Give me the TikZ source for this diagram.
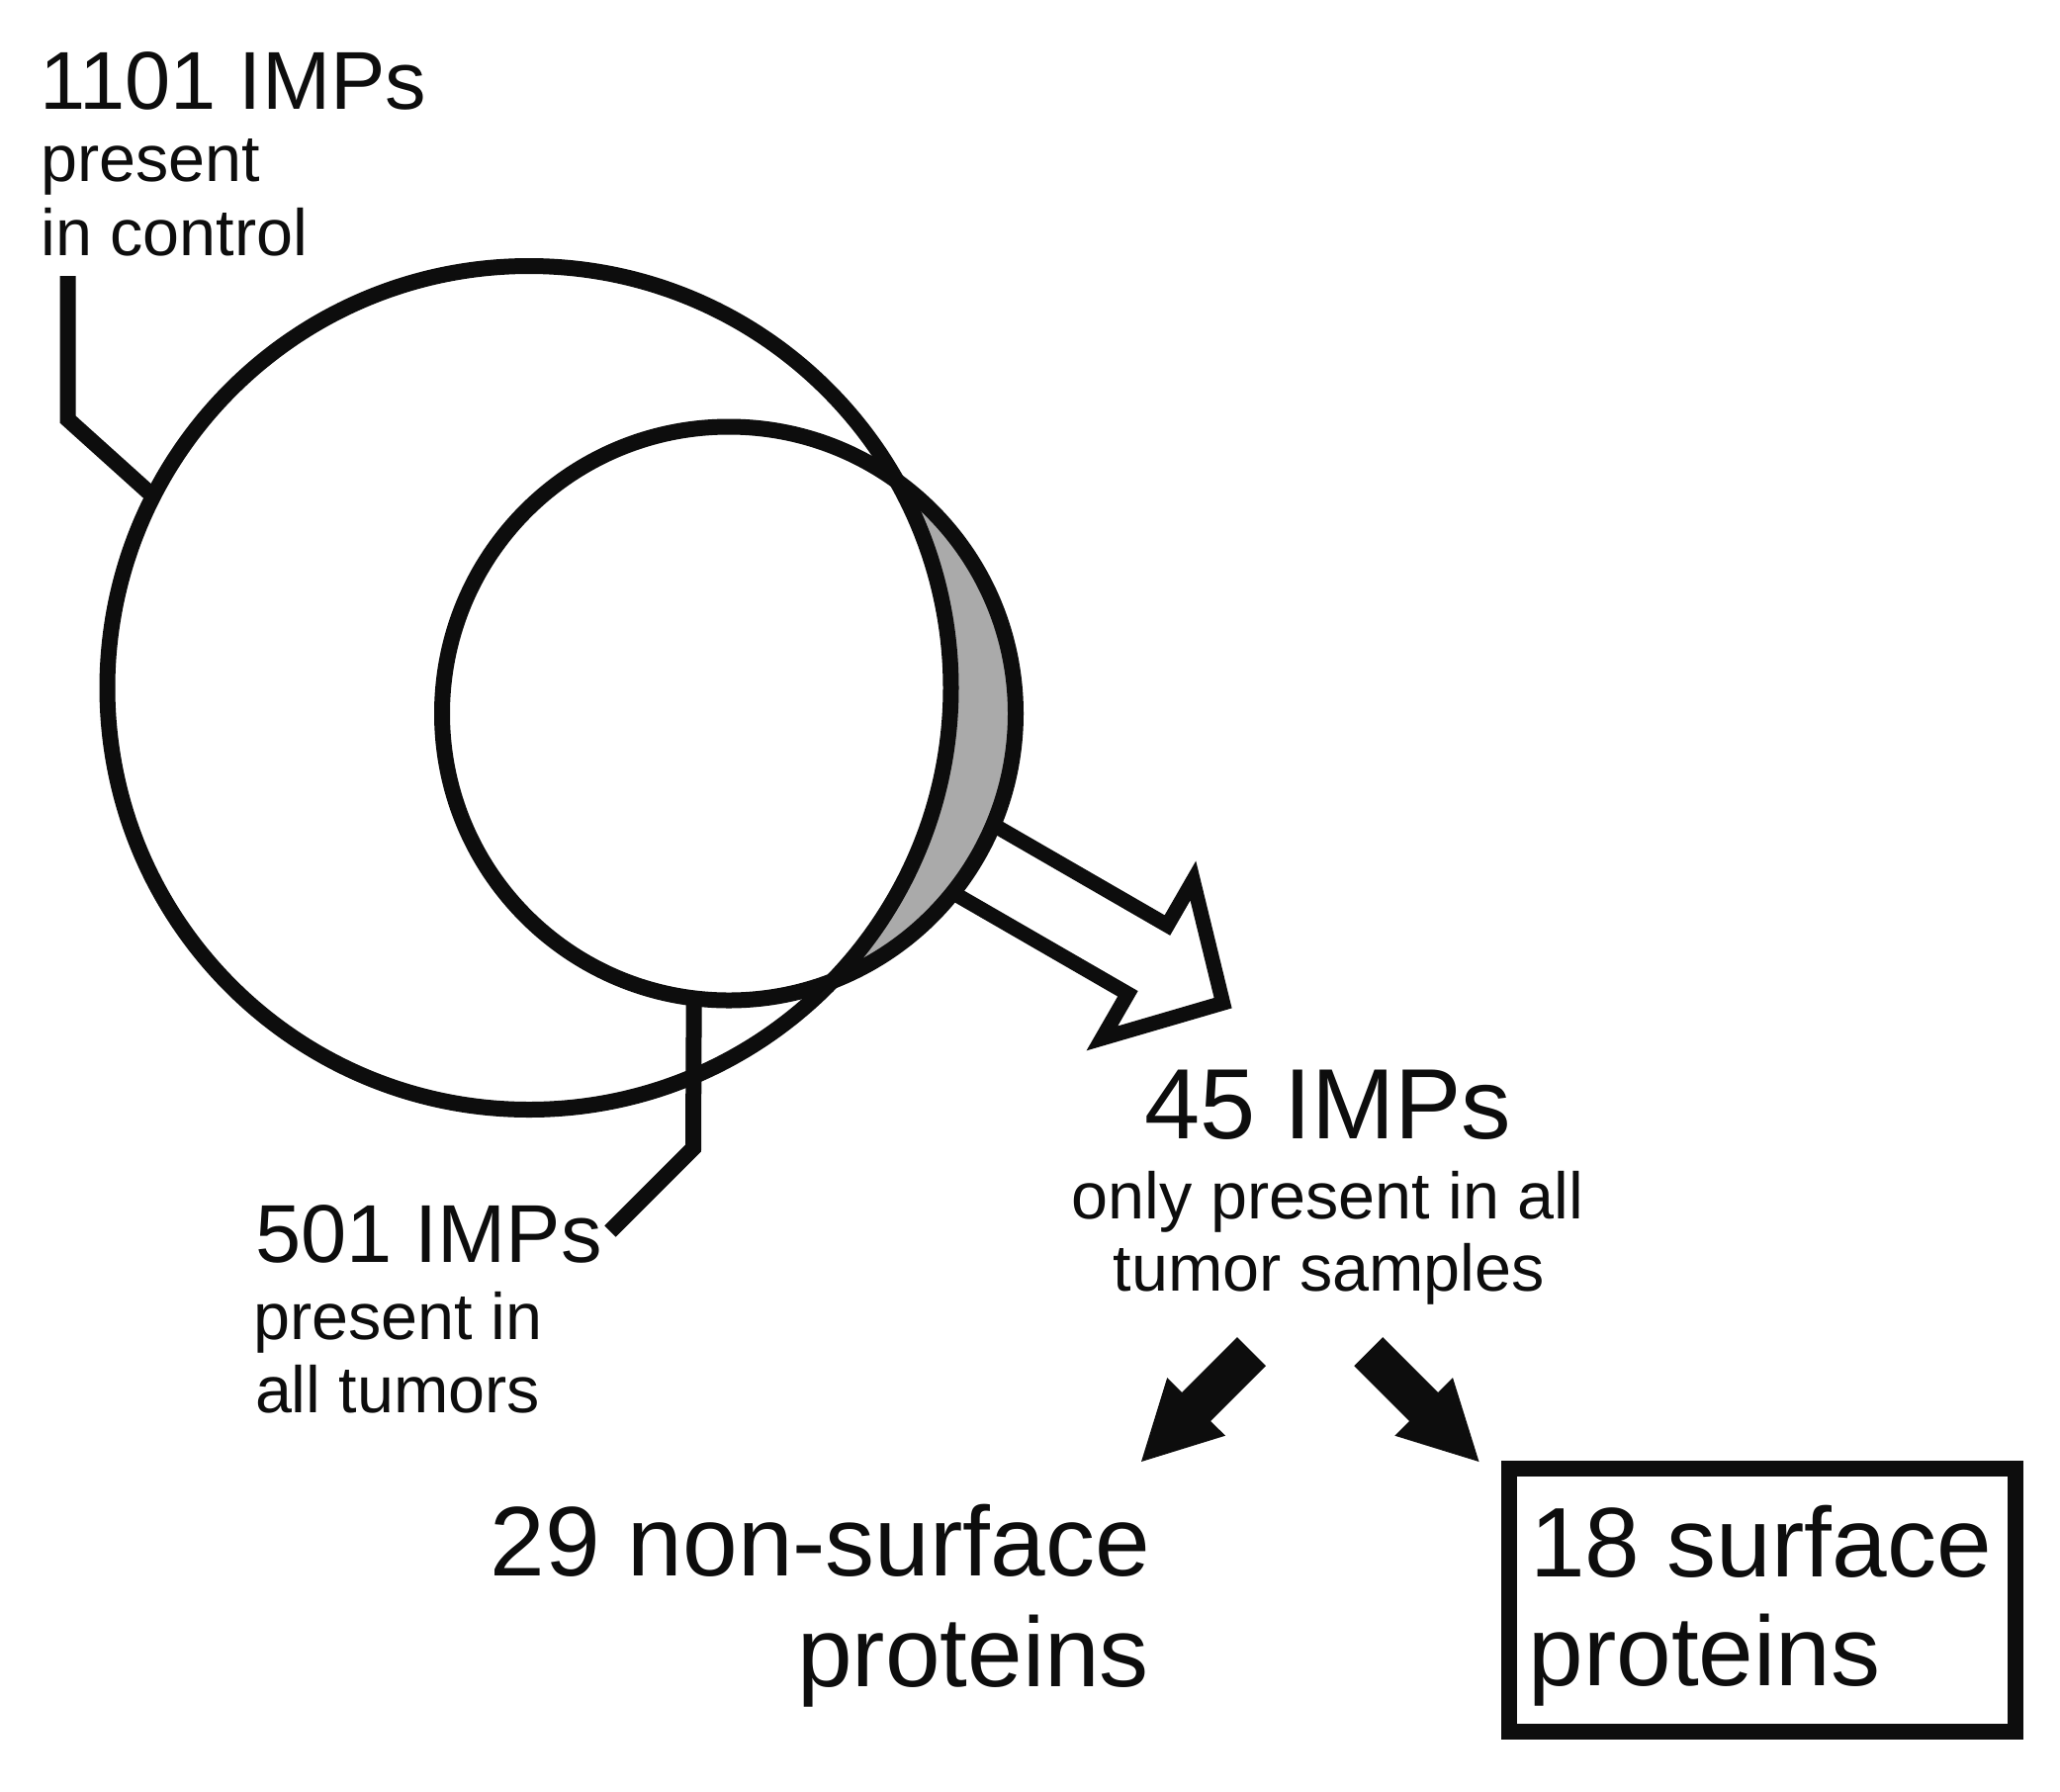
\documentclass[tikz,border=0pt]{standalone}
\usepackage{fontspec}
\setmainfont{Liberation Sans}
\definecolor{ink}{RGB}{13,13,13}
\definecolor{crescent}{RGB}{170,170,170}
\newcommand\fontMid{\fontsize{41.5pt}{48pt}\selectfont}
\newcommand\fontSmall{\fontsize{33.25pt}{38pt}\selectfont}
\newcommand\fontHead{\fontsize{50.5pt}{58pt}\selectfont}
\newcommand\fontRes{\fontsize{50pt}{58pt}\selectfont}
\begin{document}
\begin{tikzpicture}[x=0.5pt,y=-0.5pt,
  every node/.style={inner sep=0pt, outer sep=0pt, text=ink},
  lead/.style={draw=ink, line width=8pt, line join=miter},
  ring/.style={circle, draw=ink, line width=8pt, inner sep=0pt},
  hollowarrow/.style={draw=ink, fill=white, line width=7.5pt, line join=miter},
  solidarrow/.style={fill=ink},
  resultbox/.style={rectangle, draw=ink, line width=8pt, inner sep=0pt},
  midlbl/.style={font=\fontMid},
  smalllbl/.style={font=\fontSmall},
  headlbl/.style={font=\fontHead},
  reslbl/.style={font=\fontRes}]
\useasboundingbox (0,0) rectangle (2083,1811);
\fill[white] (0,0) rectangle (2083,1811);

% hollow arrow leaving the crescent
\draw[hollowarrow] (920.6,785.6) -- (1180.4,935.6) -- (1206.4,890.5) -- (1236.6,1014.2)
  -- (1114.4,1049.9) -- (1140.4,1004.8) -- (880.6,854.8) -- cycle;

% circles
\coordinate (cB) at (535,695.5);
\coordinate (cI) at (737,721.5);
\fill[crescent] (cI) circle[radius=145pt];
\begin{scope}
  \clip (cI) circle[radius=145pt];
  \fill[white] (cB) circle[radius=213.25pt];
\end{scope}
\node[ring, minimum size=426.5pt] (big) at (cB) {};
\node[ring, minimum size=290pt] (inner) at (cI) {};

% leader lines
\coordinate (l1top) at (68.5,279);
\coordinate (l1knee) at (68.5,424);
\draw[lead] (l1top) -- (l1knee) -- (big.153.9);
\coordinate (l2knee) at (701,1161);
\coordinate (l2end) at (617,1245);
\draw[lead] (inner.263) -- (l2knee) -- (l2end);

% labels
\node[midlbl, anchor=base west] (t1101) at (40.5,110) {1101 IMPs};
\node[smalllbl, anchor=base west] (t1101a) at (41.5,183) {present};
\node[smalllbl, anchor=base west] (t1101b) at (41.5,258) {in control};

\node[midlbl, anchor=base west] (t501) at (258,1276) {501 IMPs};
\node[smalllbl, anchor=base west] (t501a) at (256.5,1354) {present in};
\node[smalllbl, anchor=base west] (t501b) at (258,1428) {all tumors};

\node[headlbl, anchor=base] (t45) at (1343,1151) {45 IMPs};
\node[smalllbl, anchor=base] (t45a) at (1342.5,1232) {only present in all};
\node[smalllbl, anchor=base] (t45b) at (1344,1305.6) {tumor samples};

\node[reslbl, anchor=base east] (t29) at (1163,1593) {29 non-surface};
\node[reslbl, anchor=base east] (t29b) at (1162,1705) {proteins};

\node[resultbox, minimum width=256pt, minimum height=133pt] (box) at (1781.5,1618) {};
\node[reslbl, anchor=base west] (t18) at (1547,1594.5) {18 surface};
\node[reslbl, anchor=base west] (t18b) at (1545.5,1704.7) {proteins};

% solid arrows
\fill[solidarrow] (1251,1352) -- (1195.1,1407.9) -- (1180.2,1393.1) -- (1154,1478)
  -- (1239,1451.7) -- (1224.1,1436.9) -- (1280,1381) -- cycle;
\fill[solidarrow] (1398.25,1352) -- (1454.15,1407.9) -- (1469,1393.1) -- (1495.5,1478)
  -- (1410.3,1451.7) -- (1425.15,1436.9) -- (1369.25,1381) -- cycle;
\end{tikzpicture}
\end{document}
